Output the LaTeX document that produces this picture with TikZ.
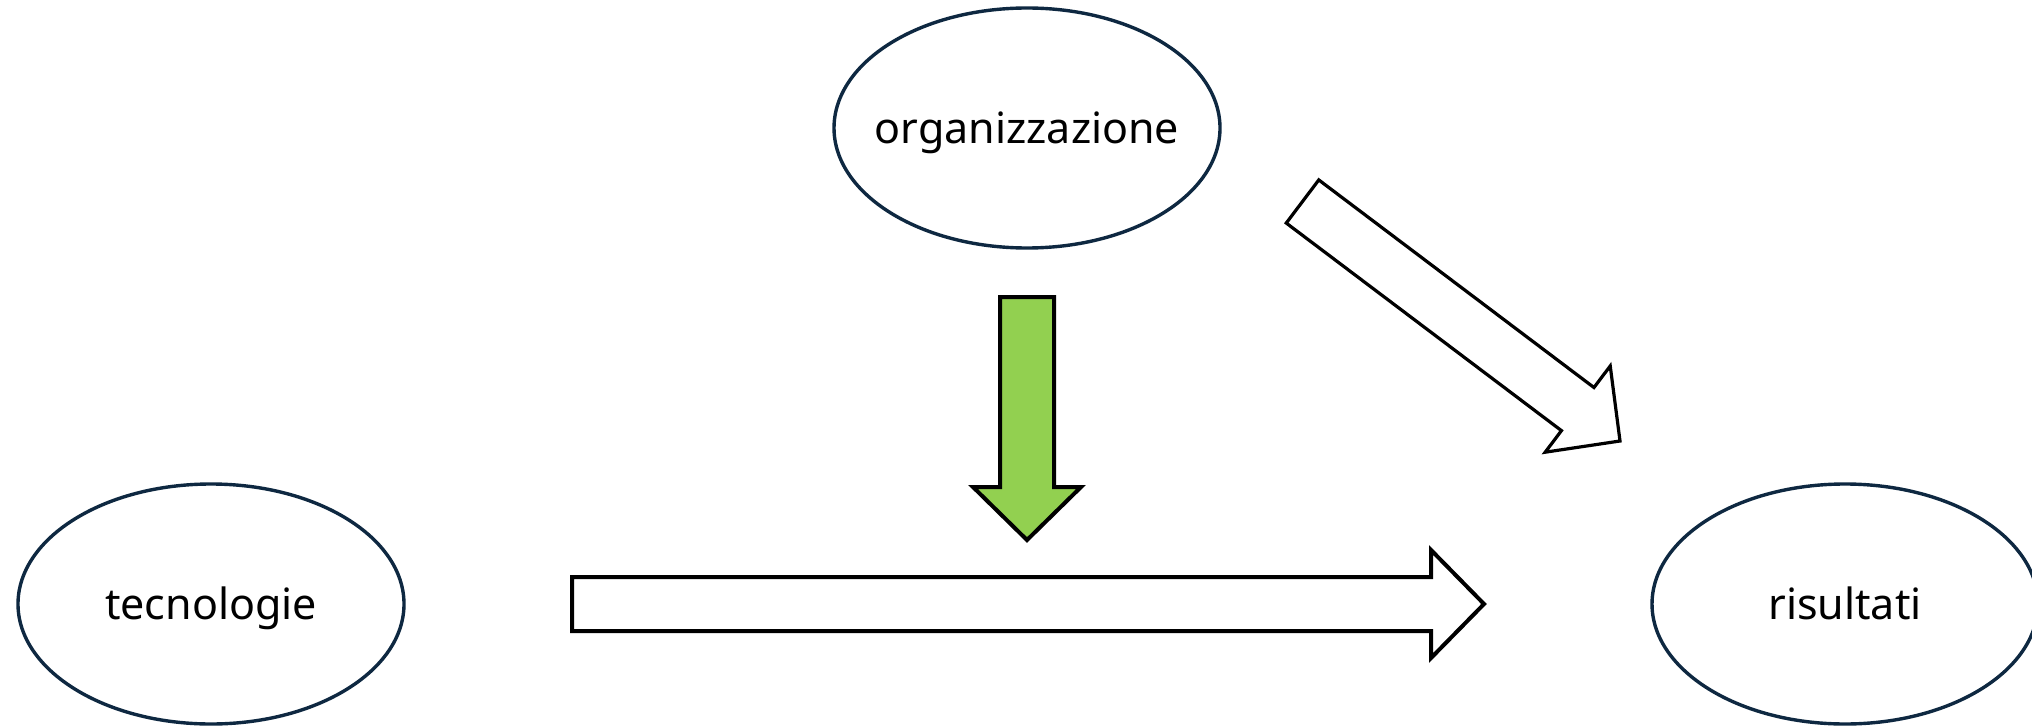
\documentclass[tikz,border=0pt]{standalone}
\usepackage{fontspec}
\setmainfont{Noto Sans}
\usetikzlibrary{shapes.geometric,calc}

\definecolor{ovalline}{HTML}{0E2841}
\definecolor{leafgreen}{HTML}{92D050}

% Block arrow from tail coordinate #2 to tip coordinate #3, options #1
\newcommand\blockarrow[3][]{%
  \coordinate (hb) at ($(#3)!26.5pt!(#2)$);
  \draw[arrowbody,#1]
    ($(#2)!13.5pt!90:(#3)$) -- ($(hb)!13.5pt!90:(#3)$) --
    ($(hb)!27pt!90:(#3)$) -- (#3) -- ($(hb)!27pt!-90:(#3)$) --
    ($(hb)!13.5pt!-90:(#3)$) -- ($(#2)!13.5pt!-90:(#3)$) -- cycle;
}

\begin{document}
\begin{tikzpicture}[x=0.5pt,y=-0.5pt,
  oval/.style={ellipse, draw=ovalline, line width=1.7pt, fill=white,
    minimum width=193pt, minimum height=120pt, inner sep=0pt},
  ovaltext/.style={anchor=base, inner sep=0pt,
    font=\fontsize{21.5}{26}\selectfont},
  arrowbody/.style={draw=black, line width=2pt, fill=white, line join=miter}]
\useasboundingbox (0,0) rectangle (2032,727);

\node[oval] (org) at (1027,128) {};
\node[oval] (tec) at (211,604) {};
\node[oval] (ris) at (1845,604) {};

\node[ovaltext] (orgtext) at ([yshift=-8pt]org.center) {organizzazione};
\node[ovaltext] (tectext) at ([yshift=-7.5pt]tec.center) {tecnologie};
\node[ovaltext] (ristext) at ([yshift=-7.5pt]ris.center) {risultati};

% arrow ends
\coordinate (gtail) at (1027,297);
\coordinate (gtip)  at (1027,540);
\coordinate (htail) at (572,604);
\coordinate (htip)  at (1484,604);
\coordinate (dtail) at (1302.5,201.5);
\coordinate (dtip)  at (1620,441);

\blockarrow[fill=leafgreen]{gtail}{gtip}
\blockarrow{htail}{htip}
\blockarrow[line width=1.6pt]{dtail}{dtip}
\end{tikzpicture}
\end{document}
